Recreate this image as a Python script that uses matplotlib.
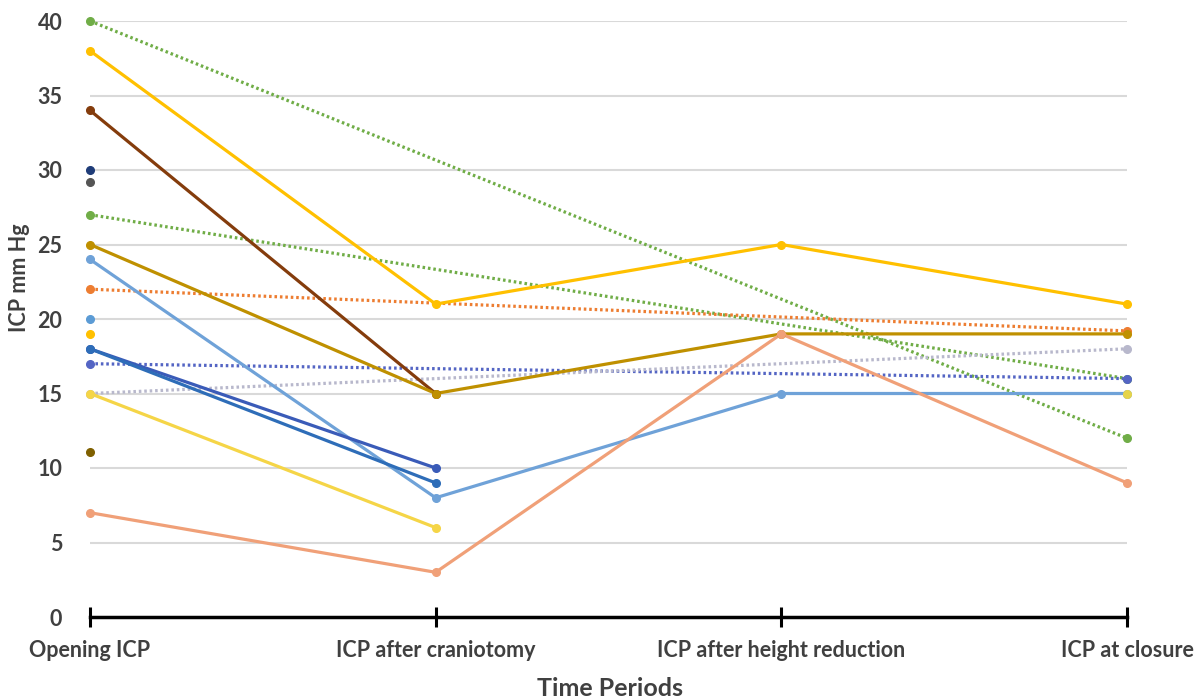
import matplotlib
matplotlib.use("Agg")
import matplotlib.pyplot as plt
import numpy as np

categories = ["Opening ICP", "ICP after craniotomy", "ICP after height reduction", "ICP at closure"]
yticks = [0, 5, 10, 15, 20, 25, 30, 35, 40]

# Solid series (None = missing value)
solid_series = [
    ("#FFC000", [38, 21, 25, 21]),
    ("#843C0C", [34, 15, None, None]),
    ("#BF9000", [25, 15, 19, 19]),
    ("#6FA2D8", [24, 8, 15, 15]),
    ("#3A5BB8", [18, 10, None, None]),
    ("#2E6DB8", [18, 9, None, None]),
    ("#F5D547", [15, 6, None, None]),
    ("#F0A078", [7, 3, 19, 9]),
]
# Dotted series: opening -> closure only
dotted_series = [
    ("#70AD47", [40, None, None, 12]),
    ("#70AD47", [27, None, None, 16]),
    ("#ED7D31", [22, None, None, 19.2]),
    ("#5465C4", [17, None, None, 16]),
    ("#B8B8CC", [15, None, None, 18]),
]
# Single points
single_points = [
    ("#1F3C78", 0, 30),
    ("#555555", 0, 29.2),
    ("#5B9BD5", 0, 20),
    ("#FFC000", 0, 19),
    ("#7F6000", 0, 11.1),
    ("#E6D44A", 3, 15),
]

fig = plt.figure(figsize=(12.01, 7.0), dpi=100)
ax = fig.add_axes([90/1201, 1-617/700, (1127-90)/1201, (617-21)/700])

ax.set_xlim(0, 3)
ax.set_ylim(0, 40)
ax.yaxis.grid(True, color="#D9D9D9", linewidth=1.5)
ax.set_axisbelow(True)
for s in ["top", "right", "left"]:
    ax.spines[s].set_visible(False)
ax.spines["bottom"].set_color("black")
ax.spines["bottom"].set_linewidth(2.5)
ax.spines["bottom"].set_zorder(10)

x = np.arange(len(categories))

def draw(color, vals, ls, lw, mz):
    xs = [xi for xi, v in zip(x, vals) if v is not None]
    ys = [v for v in vals if v is not None]
    ax.plot(xs, ys, color=color, linestyle=ls, linewidth=lw, zorder=3, clip_on=False,
            solid_capstyle="round")
    ax.plot(xs, ys, color=color, linestyle="none", marker="o", markersize=5.5, zorder=mz, clip_on=False)

for c, v in dotted_series:
    draw(c, v, (0, (0.8, 0.9)), 2.3, 3.5)
for c, v in solid_series:
    draw(c, v, "-", 2.3, 4)
for c, xi, yi in single_points:
    ax.plot([xi], [yi], color=c, marker="o", markersize=5.5, linestyle="none", zorder=4, clip_on=False)

font = "Lato"
tc = "#404040"
ax.set_xticks(x)
ax.set_xticklabels(categories, fontname=font, fontweight="bold", fontsize=15.5, color=tc)
ax.tick_params(axis="x", direction="inout", length=15, width=2.2, color="black", pad=9)
ax.tick_params(axis="y", length=0, pad=20)
ax.set_yticks(yticks)
ax.set_yticklabels([str(t) for t in yticks], fontname=font, fontweight="bold", fontsize=15.5, color=tc)
ax.yaxis.get_gridlines()[0].set_visible(False)

fig.text(20/1201, 1-278/700, "ICP mm Hg", rotation=90, ha="center", va="center",
         fontname=font, fontweight="bold", fontsize=15.5, color=tc)
fig.text(610/1201, 1-688/700, "Time Periods", ha="center", va="center",
         fontname=font, fontweight="bold", fontsize=18, color=tc)

fig.savefig("out.png", dpi=100)
